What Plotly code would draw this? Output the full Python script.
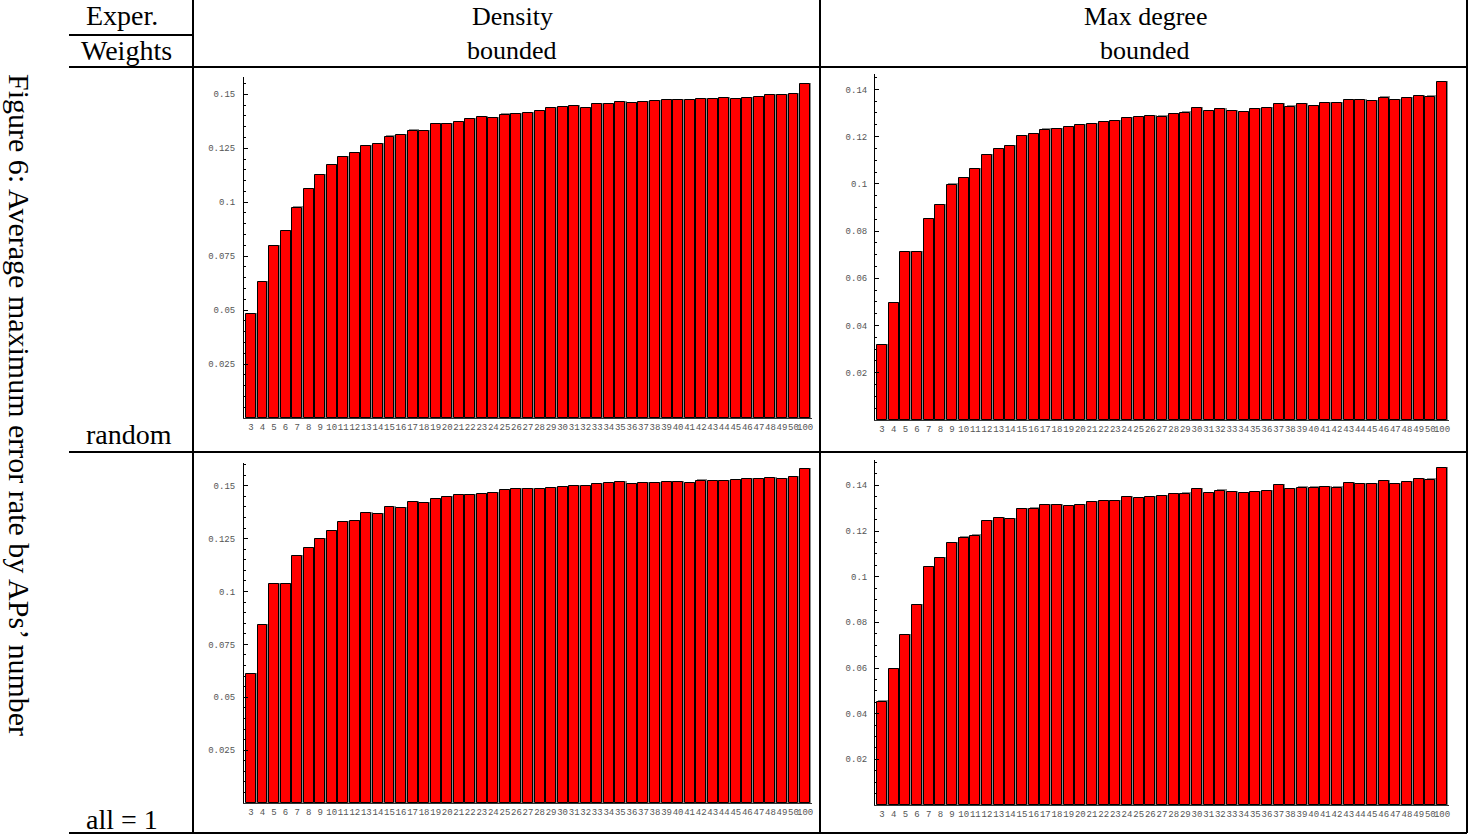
import plotly.graph_objects as go

# Number of access points (x categories)
ap_counts = [str(n) for n in range(3, 51)] + ["100"]

# Average maximum error rate, one list per cell of the table
density_random = [0.0480, 0.0628, 0.0798, 0.0866, 0.0975, 0.1059, 0.1125, 0.1170, 0.1208, 0.1227,
                  0.1259, 0.1269, 0.1304, 0.1312, 0.1332, 0.1330, 0.1360, 0.1364, 0.1373, 0.1386,
                  0.1394, 0.1390, 0.1406, 0.1410, 0.1415, 0.1424, 0.1437, 0.1440, 0.1444, 0.1438,
                  0.1455, 0.1455, 0.1466, 0.1460, 0.1463, 0.1469, 0.1472, 0.1475, 0.1475, 0.1480,
                  0.1480, 0.1481, 0.1480, 0.1481, 0.1488, 0.1495, 0.1495, 0.1500, 0.1546]
maxdeg_random = [0.0316, 0.0496, 0.0712, 0.0712, 0.0851, 0.0911, 0.0997, 0.1024, 0.1062, 0.1120,
                 0.1146, 0.1161, 0.1203, 0.1210, 0.1230, 0.1231, 0.1240, 0.1247, 0.1254, 0.1261,
                 0.1266, 0.1278, 0.1281, 0.1288, 0.1285, 0.1295, 0.1302, 0.1319, 0.1309, 0.1317,
                 0.1309, 0.1303, 0.1316, 0.1320, 0.1336, 0.1327, 0.1337, 0.1329, 0.1341, 0.1341,
                 0.1353, 0.1355, 0.1350, 0.1365, 0.1353, 0.1364, 0.1371, 0.1369, 0.1430]
density_all1 = [0.0612, 0.0840, 0.1036, 0.1036, 0.1168, 0.1208, 0.1250, 0.1285, 0.1329, 0.1332,
                0.1372, 0.1365, 0.1398, 0.1397, 0.1422, 0.1417, 0.1439, 0.1446, 0.1458, 0.1458,
                0.1463, 0.1466, 0.1479, 0.1484, 0.1484, 0.1487, 0.1491, 0.1496, 0.1499, 0.1498,
                0.1509, 0.1512, 0.1517, 0.1509, 0.1515, 0.1515, 0.1517, 0.1518, 0.1515, 0.1525,
                0.1523, 0.1523, 0.1528, 0.1532, 0.1532, 0.1539, 0.1534, 0.1540, 0.1581]
maxdeg_all1 = [0.0453, 0.0594, 0.0743, 0.0877, 0.1041, 0.1083, 0.1149, 0.1171, 0.1180, 0.1242,
               0.1258, 0.1251, 0.1296, 0.1298, 0.1312, 0.1314, 0.1311, 0.1314, 0.1327, 0.1331,
               0.1330, 0.1349, 0.1345, 0.1349, 0.1353, 0.1362, 0.1364, 0.1382, 0.1368, 0.1377,
               0.1369, 0.1368, 0.1372, 0.1375, 0.1400, 0.1384, 0.1390, 0.1390, 0.1394, 0.1390,
               0.1410, 0.1407, 0.1407, 0.1418, 0.1406, 0.1416, 0.1426, 0.1425, 0.1477]

# Tick labels on the y axes
density_ticks = [0.025, 0.05, 0.075, 0.1, 0.125, 0.15]
density_ticktext = ["0.025", "0.05", "0.075", "0.1", "0.125", "0.15"]
maxdeg_ticks = [0.02, 0.04, 0.06, 0.08, 0.1, 0.12, 0.14]
maxdeg_ticktext = ["0.02", "0.04", "0.06", "0.08", "0.1", "0.12", "0.14"]

W, H = 1473, 840


def px(x):
    return x / W


def py(y):
    return 1 - y / H


SERIF = "Liberation Serif"
MONO = "Liberation Mono"

# (values, x pixel span, y pixel span, y max, ticks, ticktext, label standoff)
panels = [
    (density_random, (244, 812), (77, 418), 0.158, density_ticks, density_ticktext, 6),
    (maxdeg_random, (875, 1449), (74, 420), 0.1465, maxdeg_ticks, maxdeg_ticktext, 5),
    (density_all1, (244, 812), (463, 803), 0.1608, density_ticks, density_ticktext, 6),
    (maxdeg_all1, (875, 1449), (460, 805), 0.1511, maxdeg_ticks, maxdeg_ticktext, 5),
]

fig = go.Figure()
idx = list(range(len(ap_counts)))
bar_w = 0.86
layout_axes = {}

for k, (vals, xs, ys, ymax, tv, tt, stand) in enumerate(panels, start=1):
    xa = "x" if k == 1 else f"x{k}"
    ya = "y" if k == 1 else f"y{k}"
    # soft grey drop shadow behind each bar
    fig.add_trace(go.Bar(
        x=idx, y=[v + 0.0005 for v in vals], xaxis=xa, yaxis=ya,
        width=bar_w, offset=-bar_w / 2 + 0.11,
        marker=dict(color="#8c8c8c", line=dict(width=0)),
        hoverinfo="skip", showlegend=False,
    ))
    fig.add_trace(go.Bar(
        x=idx, y=vals, xaxis=xa, yaxis=ya,
        width=bar_w, offset=-bar_w / 2,
        marker=dict(color="#ff0000", line=dict(color="black", width=1)),
        customdata=ap_counts, hovertemplate="%{customdata}: %{y}<extra></extra>",
        showlegend=False,
    ))
    minor_vals = [round(0.005 * i, 4) for i in range(1, int(ymax / 0.005) + 1)]
    xname = "xaxis" if k == 1 else f"xaxis{k}"
    yname = "yaxis" if k == 1 else f"yaxis{k}"
    layout_axes[xname] = dict(
        domain=[px(xs[0]), px(xs[1])], anchor=ya, range=[-0.6, 48.6],
        tickmode="array", tickvals=idx, ticktext=ap_counts, tickangle=0,
        tickfont=dict(family=MONO, size=9, color="#555555"),
        ticks="", showgrid=False, zeroline=False, showline=True,
        linecolor="#333333", linewidth=1, ticklabelstandoff=0,
    )
    layout_axes[yname] = dict(
        domain=[py(ys[1]), py(ys[0])], anchor=xa, range=[0, ymax],
        tickmode="array", tickvals=tv, ticktext=tt,
        tickfont=dict(family=MONO, size=9, color="#555555"),
        ticks="inside", ticklen=4, tickcolor="black", tickwidth=1,
        minor=dict(tickmode="array", tickvals=minor_vals, ticks="inside",
                   ticklen=2, tickcolor="black", tickwidth=1),
        showgrid=False, zeroline=False, showline=True,
        linecolor="black", linewidth=1, ticklabelstandoff=stand,
    )

# Table rules
line = dict(color="black", width=2)
rules = [
    (193, 0, 193, 833), (820, 0, 820, 833), (1467, 0, 1467, 833),
    (69, 35, 193, 35), (69, 67, 1467, 67), (69, 452, 1467, 452), (69, 833, 1467, 833),
]
shapes = [dict(type="line", xref="paper", yref="paper",
               x0=px(a), y0=py(b), x1=px(c), y1=py(d), line=line) for a, b, c, d in rules]

# Table text
texts = [
    ("Exper.", 84, 15, "left", 28),
    ("Weights", 79, 50, "left", 28),
    ("Density", 512, 16, "center", 26),
    ("bounded", 512, 50, "center", 26),
    ("Max degree", 1145, 16, "center", 26),
    ("bounded", 1145, 50, "center", 26),
    ("random", 84, 434, "left", 28),
    ("all = 1", 84, 819, "left", 28),
]
annotations = [dict(text=t, x=px(x), y=py(y), xref="paper", yref="paper",
                    xanchor=anc, yanchor="middle", showarrow=False,
                    font=dict(family=SERIF, size=sz, color="black"))
               for t, x, y, anc, sz in texts]
annotations.append(dict(
    text="Figure 6: Average maximum error rate by APs’ number",
    x=px(20), y=py(405), xref="paper", yref="paper", textangle=90,
    xanchor="center", yanchor="middle", showarrow=False,
    font=dict(family=SERIF, size=30, color="black"),
))

fig.update_layout(
    width=W, height=H, margin=dict(l=0, r=0, t=0, b=0),
    paper_bgcolor="white", plot_bgcolor="white",
    barmode="overlay", bargap=0,
    shapes=shapes, annotations=annotations,
    **layout_axes,
)

fig.write_html("out.html")
